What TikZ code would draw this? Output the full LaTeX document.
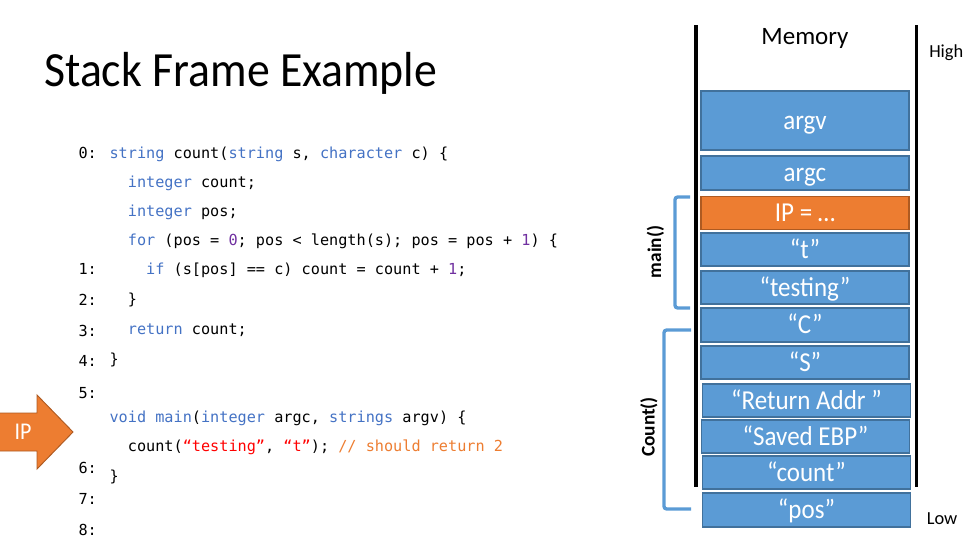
\documentclass[tikz,border=0pt]{standalone}
\usepackage{fontspec}
\setmainfont{Carlito}
\newfontfamily\codefont{DejaVu Sans Mono}
\newfontfamily\cellfont[FakeStretch=0.915]{Carlito}
\newfontfamily\titlefont[FakeStretch=0.93]{Carlito}

\definecolor{cellblue}{HTML}{5B9BD5}
\definecolor{celledge}{HTML}{41719C}
\definecolor{ipfill}{HTML}{ED7D31}
\definecolor{ipedge}{HTML}{AE5A21}
\definecolor{kw}{HTML}{4472C4}
\definecolor{num}{HTML}{7030A0}
\definecolor{strc}{HTML}{FF0000}
\definecolor{cmt}{HTML}{ED7D31}

% syntax colouring helpers
\newcommand{\kw}[1]{\textcolor{kw}{#1}}
\newcommand{\nm}[1]{\textcolor{num}{#1}}
\newcommand{\st}[1]{\textcolor{strc}{#1}}
\newcommand{\cm}[1]{\textcolor{cmt}{#1}}

\begin{document}
\begin{tikzpicture}[x=0.75pt,y=-0.75pt,
  cell/.style={draw=celledge, fill=cellblue, line width=0.8pt, text=white,
    font=\cellfont\fontsize{20.5}{22}\selectfont, text height=13.2pt, text depth=0pt,
    inner sep=0pt, minimum width=156pt},
  ipcell/.style={cell, draw=ipedge, fill=ipfill},
  codeline/.style={anchor=base west, inner sep=0pt,
    font=\codefont\fontsize{11.4}{13}\selectfont},
  wall/.style={line width=2.3pt, black},
  bracket/.style={line width=2.5pt, cellblue, rounded corners=2pt},
  framelabel/.style={rotate=90, font=\bfseries\fontsize{14.5}{16}\selectfont},
  side/.style={anchor=base west, inner sep=0pt, font=\fontsize{13.8}{15}\selectfont}
]
\useasboundingbox (0,0) rectangle (968,546);

% title
\node[anchor=base west, inner sep=0pt, font=\titlefont\fontsize{36.9}{40}\selectfont]
  (title) at (44,86.5) {Stack Frame Example};

% line numbers
\foreach \n/\y in {0/158,1/274.5,2/305.5,3/336.5,4/366.5,5/398.5,6/473.5,7/504.5,8/535}
  \node[codeline] (ln\n) at (78.3,\y) {\n:};

% source code
\node[codeline] (c0) at (109.3,158)
  {\kw{string} count(\kw{string} s, \kw{character} c) \{};
\node[codeline] (c1) at (127.6,187) {\kw{integer} count;};
\node[codeline] (c2) at (127.6,216) {\kw{integer} pos;};
\node[codeline] (c3) at (127.6,245)
  {\kw{for} (pos = \nm{0}; pos < length(s); pos = pos + \nm{1}) \{};
\node[codeline] (c4) at (145.9,274) {\kw{if} (s[pos] == c) count = count + \nm{1};};
\node[codeline] (c5) at (127.6,304) {\}};
\node[codeline] (c6) at (127.6,334) {\kw{return} count;};
\node[codeline] (c7) at (109.3,364) {\}};
\node[codeline] (c8) at (109.3,422.5)
  {\kw{void} \kw{main}(\kw{integer} argc, \kw{strings} argv) \{};
\node[codeline] (c9) at (127.6,451.5)
  {count(\st{“testing”}, \st{“t”}); \cm{// should return 2}};
\node[codeline] (c10) at (109.3,481) {\}};

% instruction pointer arrow
\fill[ipfill, draw=ipedge, line width=0.7pt]
  (-1,413) -- (37,413) -- (37,395) -- (73,432) -- (37,469) -- (37,451) -- (-1,451) -- cycle;
\node[anchor=base, inner sep=0pt, text=white, font=\cellfont\fontsize{18}{20}\selectfont]
  (iplabel) at (23,439.5) {IP};

% memory column
\node[anchor=base, inner sep=0pt, font=\fontsize{18.75}{20}\selectfont] (mem) at (805,45) {Memory};
\node[side] (high) at (929,57) {High};
\node[side] (low) at (926.5,524) {Low};

\coordinate (lwT) at (696,25);
\coordinate (lwB) at (696,487);
\coordinate (rwT) at (916.5,25);
\coordinate (rwB) at (916.5,487);

% stack cells
\node[cell, minimum height=44.25pt] (argv) at (805,120.5) {argv};
\node[cell, minimum height=25.5pt] (argc) at (805,173) {argc};
\node[ipcell, minimum height=24.5pt] (ip) at (805,213) {IP = …};
\node[cell, minimum height=24.75pt] (t) at (805,249.5) {“t”};
\node[cell, minimum height=24.75pt] (testing) at (805,287.5) {“testing”};
\node[cell, minimum height=25.5pt] (C) at (805,325) {“C”};
\node[cell, minimum height=24.75pt] (S) at (805,362.5) {“S”};
\node[cell, minimum height=24.75pt] (ret) at (806.5,400.5) {“Return Addr ”};
\node[cell, minimum height=24.75pt] (ebp) at (805.5,436.5) {“Saved EBP”};
\node[cell, minimum height=24.75pt] (cnt) at (806.5,472.5) {“count”};
\node[cell, minimum height=25.5pt] (pos) at (806.5,510) {“pos”};

\draw[wall] (lwT) -- (lwB);
\draw[wall] (rwT) -- (rwB);

% frame brackets
\coordinate (mainT) at (690,197);
\coordinate (mainB) at (690,308);
\draw[bracket] (mainT) -- ++(-15,0) |- (mainB);
\node[framelabel] (mainlbl) at (655.5,252) {main()};

\coordinate (countT) at (691,330);
\coordinate (countB) at (691,509);
\draw[bracket] (countT) -- ++(-27,0) |- (countB);
\node[framelabel] (countlbl) at (649,427) {Count()};
\end{tikzpicture}
\end{document}
